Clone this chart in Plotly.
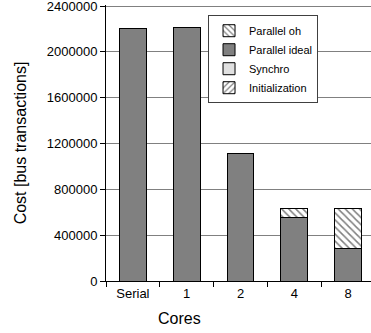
import plotly.graph_objects as go

cores = ["Serial", "1", "2", "4", "8"]
initialization = [0, 0, 0, 0, 0]
synchro = [0, 0, 0, 0, 0]
parallel_ideal = [2205000, 2213000, 1112000, 556000, 285000]
parallel_oh = [0, 0, 0, 78000, 349000]
y_ticks = [0, 400000, 800000, 1200000, 1600000, 2000000, 2400000]

FONT = "Liberation Sans, Arial, Helvetica, sans-serif"
line = dict(color="black", width=1)

fig = go.Figure()
fig.add_bar(x=cores, y=initialization, name="Initialization",
            marker=dict(color="white", line=line,
                        pattern=dict(shape="/", fgcolor="black", bgcolor="white", size=5, solidity=0.3)))
fig.add_bar(x=cores, y=synchro, name="Synchro",
            marker=dict(color="#e0e0e0", line=line))
fig.add_bar(x=cores, y=parallel_ideal, name="Parallel ideal",
            marker=dict(color="#808080", line=line))
fig.add_bar(x=cores, y=parallel_oh, name="Parallel oh",
            marker=dict(color="white", line=line,
                        pattern=dict(shape="\\", fgcolor="black", bgcolor="white", size=5, solidity=0.3)))

fig.update_layout(
    width=371, height=333, autosize=False,
    margin=dict(l=106, r=0, t=5, b=52, pad=0),
    barmode="stack", bargap=0.5,
    paper_bgcolor="white", plot_bgcolor="white",
    font=dict(family=FONT, size=13, color="black"),
    legend=dict(x=0.385, y=0.963, xanchor="left", yanchor="top",
                bgcolor="white", bordercolor="#404040", borderwidth=1,
                font=dict(size=11), traceorder="reversed", itemwidth=30),
    xaxis=dict(type="category", categoryorder="array", categoryarray=cores,
               range=[-0.5, 4.426], tickson="boundaries", ticks="outside", ticklen=5,
               tickcolor="black", showline=True, linecolor="black", linewidth=1,
               showgrid=False, tickfont=dict(size=13)),
    yaxis=dict(range=[0, 2409000], tickvals=y_ticks, tickformat="d",
               ticks="outside", ticklen=5, tickcolor="black",
               showline=True, linecolor="black", linewidth=1,
               showgrid=True, gridcolor="#808080", gridwidth=1, zeroline=False,
               tickfont=dict(size=13), ticklabeloverflow="allow",
               title=dict(text="Cost [bus transactions]", font=dict(size=16), standoff=16)),
    annotations=[dict(text="Cores", xref="paper", yref="paper", x=0.279, y=-0.135,
                      xanchor="center", yanchor="middle", showarrow=False,
                      font=dict(size=16))],
)

fig.write_html("out.html")
